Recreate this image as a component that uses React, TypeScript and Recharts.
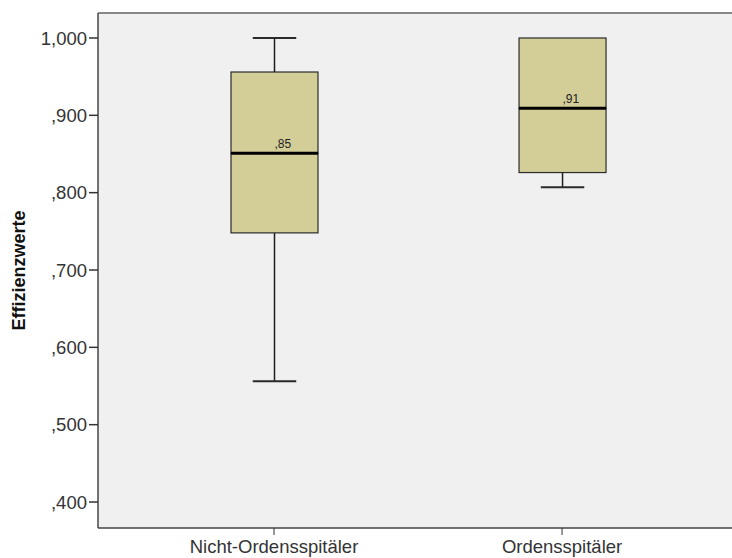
import { ComposedChart, Bar, XAxis, YAxis, CartesianGrid, ReferenceLine } from 'recharts';

// Boxplot of efficiency scores (SPSS style)

const categories = ['Nicht-Ordensspitäler', 'Ordensspitäler'];
const minVals = [0.556, 0.807];
const q1Vals = [0.748, 0.826];
const medianVals = [0.851, 0.909];
const q3Vals = [0.956, 1.0];
const maxVals = [1.0, 1.0];
const yTicks = [0.4, 0.5, 0.6, 0.7, 0.8, 0.9, 1.0];

const Y_MIN = 0.3664;
const Y_MAX = 1.0323;
const FONT = '"Liberation Sans", Arial, sans-serif';
const BOX_FILL = '#d3ce97';

const data = categories.map((name, i) => ({
    pos: i + 1,
    name,
    median: medianVals[i],
    base: minVals[i],
    lowWhisker: q1Vals[i] - minVals[i],
    lowBox: medianVals[i] - q1Vals[i],
    highBox: q3Vals[i] - medianVals[i],
    highWhisker: maxVals[i] - q3Vals[i],
}));

const fmtY = (v: number) => v.toFixed(3).replace('.', ',').replace(/^0/, '');
const fmtMedian = (v: number) => v.toFixed(2).replace('.', ',').replace(/^0/, '');

const LowWhisker = (props: any) => {
    const { x, y, width, height } = props;
    if (!height) return null;
    const cx = x + width / 2;
    const bottom = y + height;
    return (
        <g>
            <line x1={cx} y1={y} x2={cx} y2={bottom} stroke="#1e1e1e" strokeWidth={1.5} />
            <line x1={cx - width / 4} y1={bottom} x2={cx + width / 4} y2={bottom} stroke="#2a2a2a" strokeWidth={2} />
        </g>
    );
};

const HighWhisker = (props: any) => {
    const { x, y, width, height } = props;
    if (!height || height < 0.5) return null;
    const cx = x + width / 2;
    return (
        <g>
            <line x1={cx} y1={y} x2={cx} y2={y + height} stroke="#1e1e1e" strokeWidth={1.5} />
            <line x1={cx - width / 4} y1={y} x2={cx + width / 4} y2={y} stroke="#2a2a2a" strokeWidth={2} />
        </g>
    );
};

const LowBox = (props: any) => {
    const { x, y, width, height } = props;
    return <rect x={x} y={y} width={width} height={height} fill={BOX_FILL} stroke="#2b2b2b" strokeWidth={1.2} />;
};

const HighBox = (props: any) => {
    const { x, y, width, height, payload } = props;
    const cx = x + width / 2;
    const my = y + height;
    return (
        <g>
            <rect x={x} y={y} width={width} height={height} fill={BOX_FILL} stroke="#2b2b2b" strokeWidth={1.2} />
            <line x1={x} y1={my} x2={x + width} y2={my} stroke="#000" strokeWidth={3} />
            <text x={cx} y={my - 5} fontSize={12} fontFamily={FONT} fill="#222" textAnchor="start">
                {fmtMedian(payload.median)}
            </text>
        </g>
    );
};

const YTitle = (props: any) => {
    const { viewBox } = props;
    const cx = (viewBox?.x ?? 0) + 19;
    const cy = (viewBox?.y ?? 13) + (viewBox?.height ?? 515) / 2;
    return (
        <text
            x={cx}
            y={cy}
            transform={`rotate(-90 ${cx} ${cy})`}
            textAnchor="middle"
            dominantBaseline="central"
            fontSize={18}
            fontWeight="bold"
            fontFamily={FONT}
            fill="#111"
        >
            Effizienzwerte
        </text>
    );
};

export default function App() {
    return (
        <div style={{ position: 'absolute', left: 0, top: 0, background: '#fff', fontFamily: FONT }}>
            <ComposedChart width={732} height={558} data={data} margin={{ top: 13, right: 0, left: 0, bottom: 0 }}>
                <CartesianGrid fill="#f0f0f0" horizontal={false} vertical={false} />
                <XAxis
                    dataKey="pos"
                    type="number"
                    domain={[0.3889, 2.59]}
                    ticks={[1, 2]}
                    allowDataOverflow
                    height={30}
                    tickSize={7}
                    tickMargin={5}
                    tickFormatter={(v) => categories[v - 1] ?? ''}
                    tick={{ fontSize: 18.5, fill: '#333', fontFamily: FONT }}
                    axisLine={{ stroke: '#444', strokeWidth: 1.5 }}
                    tickLine={{ stroke: '#333' }}
                />
                <YAxis
                    type="number"
                    domain={[Y_MIN, Y_MAX]}
                    ticks={yTicks}
                    allowDataOverflow
                    width={98}
                    tickSize={9}
                    tickFormatter={fmtY}
                    tick={{ fontSize: 18.5, fill: '#333', fontFamily: FONT }}
                    axisLine={{ stroke: '#444', strokeWidth: 1.5 }}
                    tickLine={{ stroke: '#333', strokeWidth: 1.5 }}
                    label={<YTitle />}
                />
                <ReferenceLine y={Y_MAX} stroke="#888" strokeWidth={2} ifOverflow="visible" />
                <Bar dataKey="base" stackId="box" barSize={87} fill="none" isAnimationActive={false} />
                <Bar dataKey="lowWhisker" stackId="box" barSize={87} shape={<LowWhisker />} isAnimationActive={false} />
                <Bar dataKey="lowBox" stackId="box" barSize={87} shape={<LowBox />} isAnimationActive={false} />
                <Bar dataKey="highBox" stackId="box" barSize={87} shape={<HighBox />} isAnimationActive={false} />
                <Bar dataKey="highWhisker" stackId="box" barSize={87} shape={<HighWhisker />} isAnimationActive={false} />
            </ComposedChart>
        </div>
    );
}
